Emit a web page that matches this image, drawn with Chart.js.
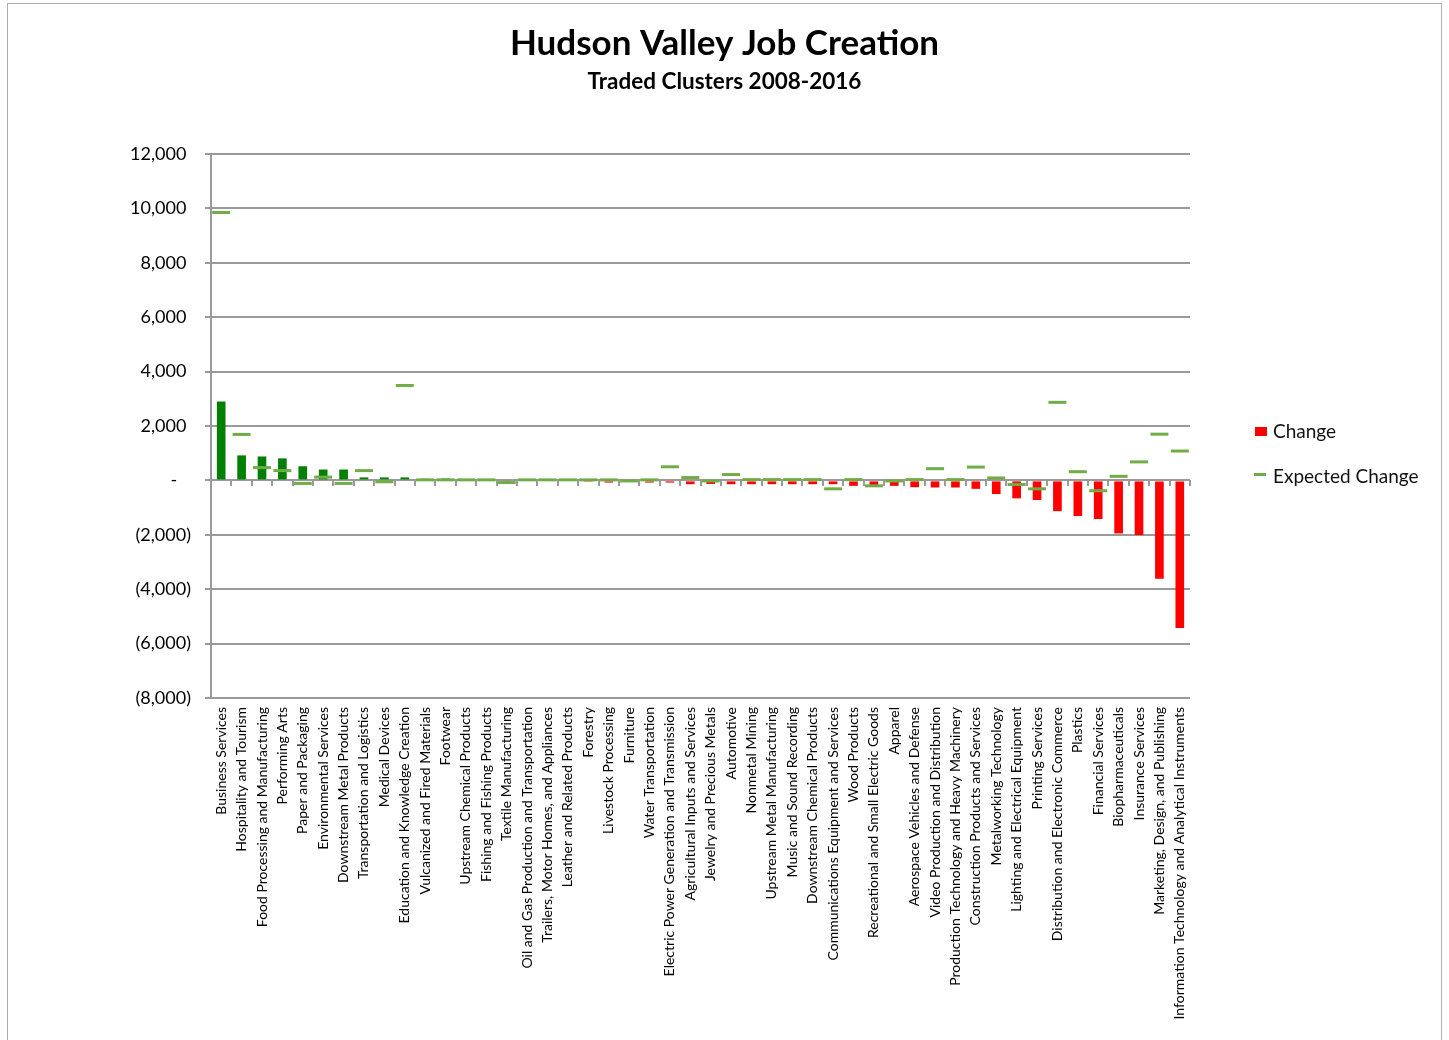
<!DOCTYPE html>
<html>
<head>
<meta charset="utf-8">
<title>Hudson Valley Job Creation</title>
<script src="https://cdn.jsdelivr.net/npm/chart.js@4.4.0/dist/chart.umd.min.js"></script>
<style>
  body { margin: 0; background: #fff; font-family: Lato, sans-serif; }
  #frame { position: absolute; left: 7px; top: 3px; width: 1433px; height: 1100px; border: 1px solid #b0b0b0; }
  #wrap { position: absolute; left: 0; top: 0; width: 1449px; height: 1040px; }
  .leg { position: absolute; left: 1273px; font-size: 19px; line-height: 20px; color: #111; white-space: nowrap; }
  .sw { position: absolute; }
</style>
</head>
<body>
<div id="frame"></div>
<div id="wrap"><canvas id="chart"></canvas></div>
<div class="sw" style="left:1255px; top:427px; width:12px; height:9px; background:#ff0000;"></div>
<div class="leg" style="top:421px;">Change</div>
<div class="sw" style="left:1254px; top:473px; width:12px; height:3px; background:#70ad47;"></div>
<div class="leg" style="top:466px;">Expected Change</div>
<script>
const categories = [
  'Business Services', 'Hospitality and Tourism', 'Food Processing and Manufacturing', 'Performing Arts',
  'Paper and Packaging', 'Environmental Services', 'Downstream Metal Products', 'Transportation and Logistics',
  'Medical Devices', 'Education and Knowledge Creation', 'Vulcanized and Fired Materials', 'Footwear',
  'Upstream Chemical Products', 'Fishing and Fishing Products', 'Textile Manufacturing',
  'Oil and Gas Production and Transportation', 'Trailers, Motor Homes, and Appliances', 'Leather and Related Products',
  'Forestry', 'Livestock Processing', 'Furniture', 'Water Transportation',
  'Electric Power Generation and Transmission', 'Agricultural Inputs and Services', 'Jewelry and Precious Metals',
  'Automotive', 'Nonmetal Mining', 'Upstream Metal Manufacturing', 'Music and Sound Recording',
  'Downstream Chemical Products', 'Communications Equipment and Services', 'Wood Products',
  'Recreational and Small Electric Goods', 'Apparel', 'Aerospace Vehicles and Defense',
  'Video Production and Distribution', 'Production Technology and Heavy Machinery',
  'Construction Products and Services', 'Metalworking Technology', 'Lighting and Electrical Equipment',
  'Printing Services', 'Distribution and Electronic Commerce', 'Plastics', 'Financial Services',
  'Biopharmaceuticals', 'Insurance Services', 'Marketing, Design, and Publishing',
  'Information Technology and Analytical Instruments'
];

const changeValues = [
  2900, 920, 880, 810, 520, 400, 400, 110, 110, 110, 60, 70,
  10, 10, -20, 5, 5, 5, -10, -80, -40, -80, -80, -140,
  -130, -140, -140, -140, -140, -140, -140, -200, -180, -200, -250, -260,
  -260, -310, -500, -660, -720, -1130, -1310, -1420, -1950, -2010, -3620, -5430
];

const expectedValues = [
  9850, 1690, 470, 360, -110, 120, -110, 360, -50, 3490, 20, 20,
  20, 20, -80, 20, 20, 20, 20, 20, -20, 20, 500, 105,
  -20, 215, 30, 30, 30, 30, -310, 30, -200, -20, 30, 430,
  30, 490, 90, -150, -310, 2870, 320, -380, 150, 680, 1700, 1080
];

const yTickValues = [-8000, -6000, -4000, -2000, 0, 2000, 4000, 6000, 8000, 10000, 12000];

Chart.defaults.font.family = 'Lato, sans-serif';
const gridColor = '#9a9a9a';

function fmtTick(v) {
  if (v === 0) return '-   ';
  const s = Math.abs(v).toLocaleString('en-US');
  return v < 0 ? '(' + s + ')' : s + ' ';
}

new Chart(document.getElementById('chart'), {
  type: 'bar',
  data: {
    labels: categories,
    datasets: [
      {
        type: 'line',
        label: 'Expected Change',
        data: expectedValues,
        showLine: false,
        pointStyle: 'line',
        pointRadius: 9,
        pointHoverRadius: 9,
        pointBorderWidth: 3,
        borderColor: '#70ad47',
        backgroundColor: '#70ad47',
        xAxisID: 'x',
        yAxisID: 'y',
        order: 1
      },
      {
        type: 'bar',
        label: 'Change',
        data: changeValues,
        backgroundColor: changeValues.map(v => v >= 0 ? '#008000' : '#ff0000'),
        barPercentage: 0.85,
        categoryPercentage: 0.5,
        xAxisID: 'x',
        yAxisID: 'y',
        order: 2
      }
    ]
  },
  options: {
    responsive: true,
    maintainAspectRatio: false,
    animation: false,
    layout: { padding: 0 },
    plugins: {
      legend: { display: false },
      tooltip: { enabled: false },
      title: {
        display: true,
        text: 'Hudson Valley Job Creation',
        color: '#000',
        font: { size: 35, weight: 'bold' },
        padding: { top: 23, bottom: 0 }
      },
      subtitle: {
        display: true,
        text: 'Traded Clusters 2008-2016',
        color: '#000',
        font: { size: 22.5, weight: 'bold' },
        padding: { top: 3.5, bottom: 58.5 }
      }
    },
    scales: {
      x: {
        type: 'category',
        position: 'bottom',
        grid: { display: false, drawTicks: false },
        border: { display: false },
        ticks: { autoSkip: false, maxRotation: 90, minRotation: 90, padding: 9, color: '#000', font: { size: 14 } },
        afterFit: s => { s.height = 342; }
      },
      xZero: {
        type: 'category',
        labels: categories,
        position: { y: 0 },
        offset: true,
        grid: { offset: true, drawOnChartArea: false, tickLength: 6, color: gridColor, lineWidth: 2 },
        border: { display: false },
        ticks: { display: false }
      },
      y: {
        min: -8000,
        max: 12000,
        afterBuildTicks: s => { s.ticks = yTickValues.map(v => ({ value: v })); },
        ticks: { padding: 14, color: '#000', font: { size: 18 }, callback: fmtTick },
        grid: { color: gridColor, lineWidth: 2, tickLength: 6 },
        border: { color: gridColor, width: 2 },
        afterFit: s => { s.width = 211; }
      },
      // empty right-hand axis that only reserves room for the legend
      yRight: {
        position: 'right',
        min: -8000,
        max: 12000,
        grid: { display: false },
        border: { display: false },
        ticks: { display: false },
        afterFit: s => { s.width = 259; }
      }
    }
  }
});
</script>
</body>
</html>
